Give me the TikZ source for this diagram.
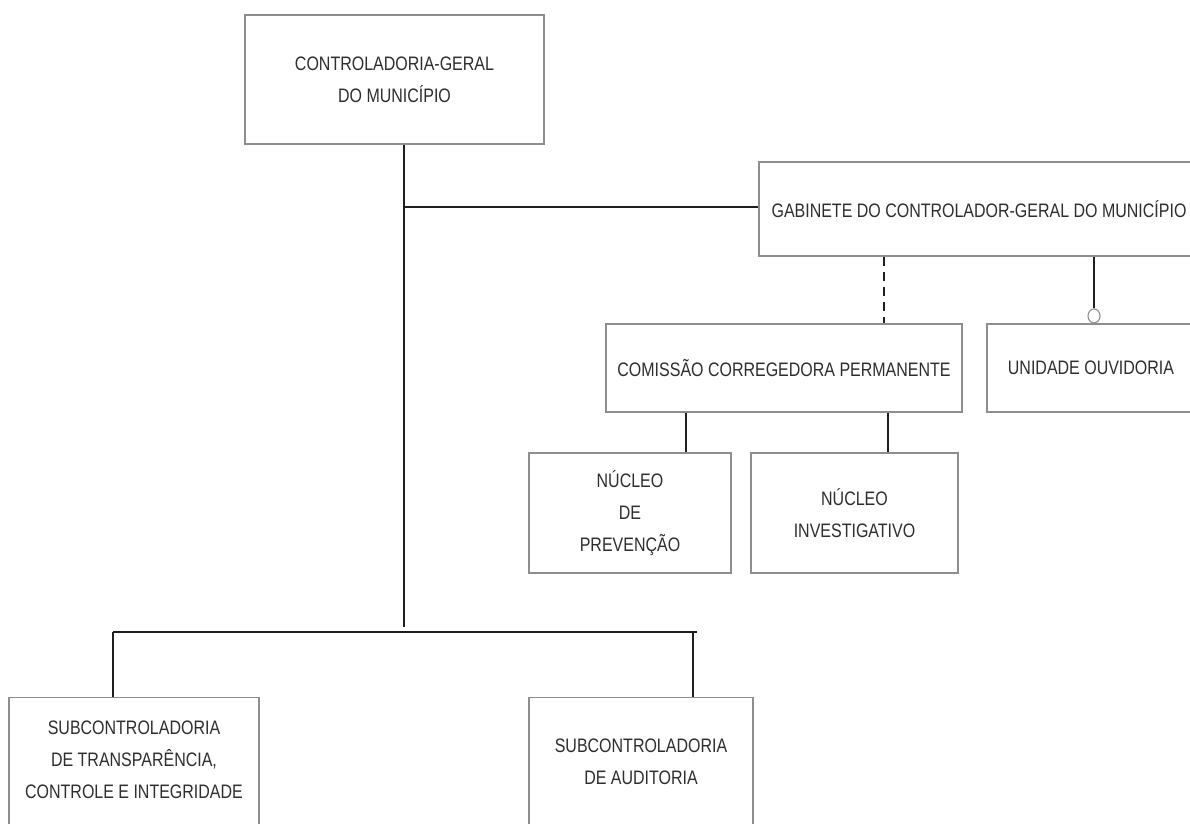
\documentclass[tikz,border=0pt]{standalone}
\usepackage{fontspec}
\setmainfont{Liberation Sans}[FakeStretch=0.82]
\usetikzlibrary{shapes.geometric}
\definecolor{txtc}{HTML}{2E2E2E}
\definecolor{boxc}{HTML}{8E8E8E}
\definecolor{linec}{HTML}{1E1E1E}
\begin{document}
\begin{tikzpicture}[x=1pt,y=-1pt,
  orgbox/.style={draw=boxc, line width=1.1pt, rectangle, inner sep=0pt, text=txtc, align=center, font=\fontsize{19.5}{32}\selectfont},
  orgtxt/.style={inner sep=0pt, text=txtc, align=center, font=\fontsize{19.5}{32}\selectfont},
  conn/.style={draw=linec, line width=1.3pt},
  dashconn/.style={draw=linec, line width=1.3pt, dash pattern=on 9pt off 6pt}]
\useasboundingbox (0,0) rectangle (1190,823);
\clip (0,0) rectangle (1190,823);
\fill[white] (0,0) rectangle (1190,823);

% boxes
\node[orgbox, minimum width=299pt, minimum height=129pt] (cgm) at (394.5,79.5) {CONTROLADORIA-GERAL\\DO MUNICÍPIO};
\node[orgbox, minimum width=440pt, minimum height=94pt] (gab) at (979,209) {GABINETE DO CONTROLADOR-GERAL DO MUNICÍPIO};
\node[orgbox, minimum width=356pt, minimum height=88pt] (com) at (784,368) {COMISSÃO CORREGEDORA PERMANENTE};
\node[orgbox, minimum width=208pt, minimum height=88pt] (ouv) at (1091,368) {UNIDADE OUVIDORIA};
\node[orgbox, minimum width=202pt, minimum height=120pt] (prev) at (630,513) {NÚCLEO\\DE\\PREVENÇÃO};
\node[orgbox, minimum width=207pt, minimum height=120pt] (inv) at (854.5,513) {NÚCLEO\\INVESTIGATIVO};
\node[orgbox, minimum width=250pt, minimum height=150pt, anchor=north] (stci) at (134,697) {};
\node[orgtxt] (stcit) at (134,760) {SUBCONTROLADORIA\\DE TRANSPARÊNCIA,\\CONTROLE E INTEGRIDADE};
\node[orgbox, minimum width=224pt, minimum height=150pt, anchor=north] (aud) at (641,697) {};
\node[orgtxt] (audt) at (641,762) {SUBCONTROLADORIA\\DE AUDITORIA};

% helper coordinates
\coordinate (trunkend) at (404,627);
\coordinate (branch) at (404,207);
\coordinate (busl) at (113,632);
\coordinate (busr) at (697,632);
\coordinate (busr2) at (693,632);
\coordinate (dashx) at (884,0);
\coordinate (ouvx) at (1094,0);
\coordinate (prevx) at (686,0);
\coordinate (invx) at (888,0);

% connectors
\draw[conn] (cgm.south -| trunkend) -- (trunkend);
\draw[conn] (branch) -- (branch -| gab.west);
\draw[conn] (busl) -- (busr);
\draw[conn] (busl) -- (busl |- stci.north);
\draw[conn] (busr2) -- (busr2 |- aud.north);
\draw[dashconn] (gab.south -| dashx) -- (com.north -| dashx);
\node[draw=boxc, line width=1.1pt, ellipse, minimum width=12pt, minimum height=14pt, inner sep=0pt, anchor=south] (ouvc) at (ouv.north -| ouvx) {};
\draw[conn] (gab.south -| ouvx) -- (ouvc.north);
\draw[conn] (com.south -| prevx) -- (prev.north -| prevx);
\draw[conn] (com.south -| invx) -- (inv.north -| invx);
\end{tikzpicture}
\end{document}
